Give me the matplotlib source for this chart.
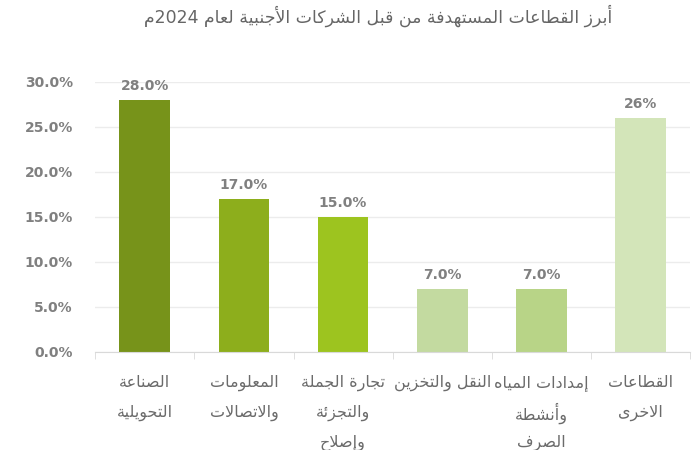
import matplotlib
matplotlib.use("Agg")
import matplotlib.pyplot as plt
from matplotlib.ticker import FixedLocator

# ---------------- data ----------------
title = "أبرز القطاعات المستهدفة من قبل الشركات الأجنبية لعام 2024م"
categories = [
    "الصناعة\nالتحويلية",
    "المعلومات\nوالاتصالات",
    "تجارة الجملة\nوالتجزئة\nوإصلاح",
    "النقل والتخزين",
    "إمدادات المياه\nوأنشطة\nالصرف",
    "القطاعات\nالاخرى",
]
values = [28.0, 17.0, 15.0, 7.0, 7.0, 26.0]
value_labels = ["28.0%", "17.0%", "15.0%", "7.0%", "7.0%", "26%"]
yticks = [0, 5, 10, 15, 20, 25, 30]
ytick_labels = ["0.0%", "5.0%", "10.0%", "15.0%", "20.0%", "25.0%", "30.0%"]
colors = ["#77931A", "#8DAE1C", "#9DC41F", "#C3DAA0", "#B8D487", "#D3E5B9"]

# ---------------- simple Arabic shaping ----------------
TWO = {0x622: 0xFE81, 0x623: 0xFE83, 0x624: 0xFE85, 0x625: 0xFE87, 0x627: 0xFE8D,
       0x629: 0xFE93, 0x62F: 0xFEA9, 0x630: 0xFEAB, 0x631: 0xFEAD, 0x632: 0xFEAF,
       0x648: 0xFEED, 0x649: 0xFEEF}
FOUR = {0x626: 0xFE89, 0x628: 0xFE8F, 0x62A: 0xFE95, 0x62B: 0xFE99, 0x62C: 0xFE9D,
        0x62D: 0xFEA1, 0x62E: 0xFEA5, 0x633: 0xFEB1, 0x634: 0xFEB5, 0x635: 0xFEB9,
        0x636: 0xFEBD, 0x637: 0xFEC1, 0x638: 0xFEC5, 0x639: 0xFEC9, 0x63A: 0xFECD,
        0x641: 0xFED1, 0x642: 0xFED5, 0x643: 0xFED9, 0x644: 0xFEDD, 0x645: 0xFEE1,
        0x646: 0xFEE5, 0x647: 0xFEE9, 0x64A: 0xFEF1}
LAMALEF = {0x622: 0xFEF5, 0x623: 0xFEF7, 0x625: 0xFEF9, 0x627: 0xFEFB}


def is_ar(c):
    o = ord(c)
    return o in TWO or o in FOUR or o == 0x621


def shape(s):
    out = []
    i = 0
    n = len(s)
    while i < n:
        c = s[i]
        o = ord(c)
        prev = s[i - 1] if i > 0 else ""
        prev_joins = bool(prev) and ord(prev) in FOUR
        if o == 0x644 and i + 1 < n and ord(s[i + 1]) in LAMALEF:
            base = LAMALEF[ord(s[i + 1])]
            out.append(chr(base + (1 if prev_joins else 0)))
            i += 2
            continue
        if o in FOUR:
            nxt = s[i + 1] if i + 1 < n else ""
            next_joins = bool(nxt) and is_ar(nxt) and ord(nxt) != 0x621
            if prev_joins and next_joins:
                f = 3
            elif next_joins:
                f = 2
            elif prev_joins:
                f = 1
            else:
                f = 0
            out.append(chr(FOUR[o] + f))
        elif o in TWO:
            out.append(chr(TWO[o] + (1 if prev_joins else 0)))
        elif o == 0x621:
            out.append(chr(0xFE80))
        else:
            out.append(c)
        i += 1
    shaped = "".join(out)
    rev = shaped[::-1]
    res = []
    buf = ""
    for ch in rev:
        if ch.isdigit() or ch == ".":
            buf += ch
        else:
            if buf:
                res.append(buf[::-1])
                buf = ""
            res.append(ch)
    if buf:
        res.append(buf[::-1])
    return "".join(res)


# ---------------- figure ----------------
plt.rcParams['font.family'] = ['DejaVu Sans']
fig = plt.figure(figsize=(7, 4.5), dpi=100)
ax = fig.add_axes([0.136, 0.218, 0.85, 0.6])

x = list(range(len(values)))
bars = ax.bar(x, values, width=0.51, color=colors, zorder=3)

ax.set_xlim(-0.5, len(values) - 0.5)
ax.set_ylim(0, 30)
ax.set_yticks(yticks)
ax.set_yticklabels(ytick_labels, color="#808080", fontsize=10, fontweight="bold")
ax.tick_params(axis="y", length=0, pad=16)
ax.grid(axis="y", color="#ECECEC", linewidth=1, zorder=0)
ax.set_axisbelow(True)

for s in ["top", "right", "left"]:
    ax.spines[s].set_visible(False)
ax.spines["bottom"].set_color("#D9D9D9")
ax.spines["bottom"].set_zorder(4)

ax.set_xticks(x)
ax.set_xticklabels([""] * len(x))
ax.tick_params(axis="x", length=0)
ax.xaxis.set_minor_locator(FixedLocator([i - 0.5 for i in range(len(x) + 1)]))
ax.tick_params(axis="x", which="minor", length=5, color="#D9D9D9")

line_offsets = [-22.3, -43.9, -65.5]  # points below axis
for i, lab in enumerate(categories):
    for j, line in enumerate(lab.split("\n")):
        ax.annotate(shape(line), xy=(i, 0), xycoords=("data", "axes fraction"),
                    xytext=(0, line_offsets[j]), textcoords="offset points",
                    ha="center", va="center", fontsize=11.5, color="#6B6B6B",
                    annotation_clip=False)

for b, lab in zip(bars, value_labels):
    ax.annotate(lab, xy=(b.get_x() + b.get_width() / 2, b.get_height()),
                xytext=(0, 5), textcoords="offset points",
                ha="center", va="bottom", fontsize=10, fontweight="bold",
                color="#808080")

fig.text(0.54, 0.965, shape(title), ha="center", va="center",
         fontsize=12.5, color="#666666")

fig.savefig("out.png", dpi=100)
